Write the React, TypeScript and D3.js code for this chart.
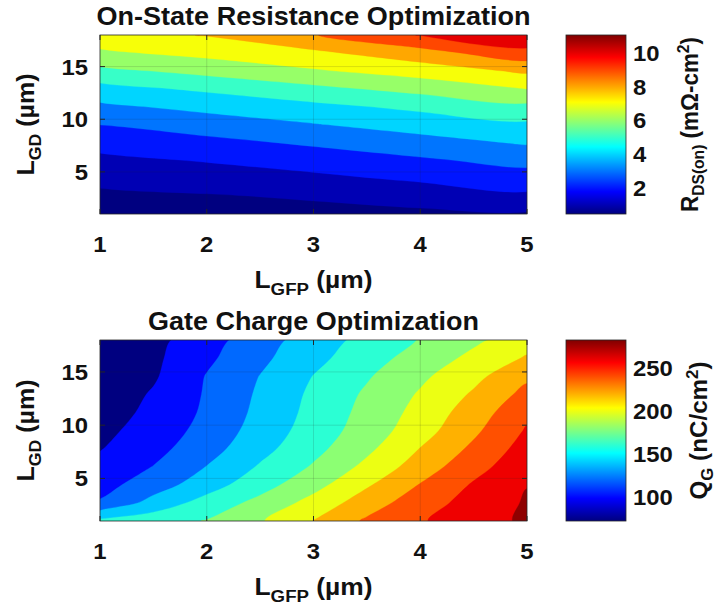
import React from 'react';
import * as d3 from 'd3';

type Grid = number[][];

// sample positions of the two grids (µm)
const lgdRows = [1, 2.7, 4.4, 6.1, 7.8, 9.5, 11.2, 12.9, 14.6, 16.3, 18];
const lgfpRds = [1, 2, 3, 4, 5];
const lgfpQg = [1, 1.5, 2, 2.5, 3, 3.5, 4, 4.5, 5];

// R_DS(on) (mΩ·cm²), one row per L_GD (bottom to top), columns follow lgfpRds
const rdsOn: Grid = [
  [0.45, 0.6, 0.7, 0.8, 0.88],
  [0.8, 0.93, 1.11, 1.4, 1.82],
  [1.25, 1.48, 1.78, 2.17, 2.57],
  [1.76, 2.07, 2.46, 2.86, 3.31],
  [2.36, 2.74, 3.16, 3.64, 4.11],
  [3.02, 3.48, 3.95, 4.42, 4.83],
  [3.8, 4.29, 4.75, 5.24, 5.76],
  [4.66, 5.18, 5.76, 6.33, 7.02],
  [5.75, 6.31, 6.9, 7.45, 8.18],
  [6.83, 7.29, 7.8, 8.6, 9.67],
  [7.59, 8.05, 8.95, 10.05, 10.9],
];

// Q_G (nC/cm²), one row per L_GD (bottom to top), columns follow lgfpQg
const qG: Grid = [
  [165, 172, 181, 198, 220.5, 243, 258, 272, 283],
  [122, 147.5, 168, 186, 207, 230.5, 251, 267.5, 282],
  [113, 130, 151, 172, 193, 217.5, 241, 262, 279.5],
  [106, 120.5, 140.5, 162, 182, 205, 229.5, 253, 273],
  [99, 113.5, 132, 153.5, 174, 195.5, 220.5, 244, 268],
  [95, 108, 127, 148, 169, 189, 211.5, 236, 262],
  [91, 104.5, 123.5, 145, 166, 186, 206.5, 230, 255],
  [87, 102, 122, 143, 164, 183, 202, 222.5, 246],
  [83, 97.5, 121, 140.5, 160.5, 178, 196, 214.5, 236],
  [79, 96, 116, 135.5, 154, 172, 188, 205, 222],
  [76, 94, 112, 131, 150, 166, 181, 196, 211],
];

const rdsLevels = [1, 2, 3, 4, 5, 6, 7, 8, 9, 10, 11];
const qgLevels = [100, 120, 140, 160, 180, 200, 220, 240, 260, 280];
const rdsRange: [number, number] = [0.45, 11.07];
const qgRange: [number, number] = [72, 283];

const xTickValues = [1, 2, 3, 4, 5];
const yTickValues = [5, 10, 15];
const rdsBarTicks = [2, 4, 6, 8, 10];
const qgBarTicks = [100, 150, 200, 250];

const width = 716;
const height = 609;
const plotLeft = 100;
const plotRight = 527;
const barLeft = 566;
const barRight = 626;
const stretch = 1.085; // the picture is a little wider than its fonts
const font = "'Liberation Sans', Arial, Helvetica, sans-serif";
const axisColor = "#262626";
const textColor = "#111";

const jet = (t: number) => {
  const c = (v: number) => Math.round(255 * Math.max(0, Math.min(1, v)));
  return `rgb(${c(1.5 - Math.abs(4 * t - 3))},${c(1.5 - Math.abs(4 * t - 2))},${c(1.5 - Math.abs(4 * t - 1))})`;
};

const HText = ({x, y, anchor, size, children, length}:
  {x: number, y: number, anchor: string, size: number, children: React.ReactNode, length?: number}) => (
  <g transform={`translate(${x},${y}) scale(${stretch},1)`}>
    <text textAnchor={anchor} fontSize={size} fontWeight="bold" fontFamily={font} fill={textColor}
      textLength={length ? length / stretch : undefined} lengthAdjust="spacingAndGlyphs">
      {children}
    </text>
  </g>
);

const VText = ({x, y, size, length, children}:
  {x: number, y: number, size: number, length: number, children: React.ReactNode}) => (
  <text transform={`translate(${x},${y}) rotate(-90)`} textAnchor="middle" fontSize={size} fontWeight="bold"
    fontFamily={font} fill={textColor} textLength={length} lengthAdjust="spacingAndGlyphs">
    {children}
  </text>
);

type PanelProps = {
  id: string,
  title: string,
  titleLength: number,
  values: Grid,
  xs: number[],
  levels: number[],
  range: [number, number],
  top: number,
  bottom: number,
  barTicks: number[],
  barLabel: React.ReactNode,
  barLabelLength: number,
  barLabelX: number,
}

const Panel = ({id, title, titleLength, values, xs, levels, range, top, bottom, barTicks, barLabel, barLabelLength, barLabelX}: PanelProps) => {
  const xScale = d3.scaleLinear().domain([1, 5]).range([plotLeft, plotRight]);
  const yScale = d3.scaleLinear().domain([1, 18]).range([bottom, top]);
  const cScale = d3.scaleLinear().domain(range).range([bottom, top]);
  const norm = (v: number) => (v - range[0]) / (range[1] - range[0]);

  const nx = xs.length;
  const ny = lgdRows.length;
  const dx = xs[1] - xs[0];
  const dy = lgdRows[1] - lgdRows[0];
  // d3.contours puts sample i at grid coordinate i + 0.5
  const toPixel = (p: number[]): [number, number] =>
    [xScale(xs[0] + (p[0] - 0.5) * dx), yScale(lgdRows[0] + (p[1] - 0.5) * dy)];
  const ringLine = d3.line().curve(d3.curveCatmullRomClosed.alpha(0.5));
  const bandPath = (mp: d3.ContourMultiPolygon) =>
    mp.coordinates.map(poly => poly.map(ring => ringLine(ring.slice(0, -1).map(toPixel) as [number, number][])).join("")).join("");
  const bands = d3.contours().size([nx, ny]).thresholds(levels)(values.flat());

  const stops = d3.range(0, 1.0001, 0.025);
  const midY = (top + bottom) / 2;
  const midX = (plotLeft + plotRight) / 2;

  return (
    <g>
      <defs>
        <clipPath id={`clip-${id}`}>
          <rect x={plotLeft} y={top} width={plotRight - plotLeft} height={bottom - top}/>
        </clipPath>
        <linearGradient id={`grad-${id}`} x1="0" y1="1" x2="0" y2="0">
          {stops.map(s => <stop key={s} offset={s} stopColor={jet(s)}/>)}
        </linearGradient>
      </defs>

      <HText x={midX} y={top - 10} anchor="middle" size={25} length={titleLength}>{title}</HText>

      <g clipPath={`url(#clip-${id})`}>
        <rect x={plotLeft} y={top} width={plotRight - plotLeft} height={bottom - top} fill={jet(0)}/>
        {bands.map(b => (
          <path key={b.value} d={bandPath(b)} fillRule="evenodd" fill={jet(norm(b.value))} stroke={jet(norm(b.value))} strokeWidth={0.3}/>
        ))}
      </g>

      {/* grid */}
      {xTickValues.slice(1, -1).map(v => (
        <line key={`gx${v}`} x1={xScale(v)} x2={xScale(v)} y1={top} y2={bottom} stroke={axisColor} strokeOpacity={0.18} strokeWidth={0.8}/>
      ))}
      {yTickValues.map(v => (
        <line key={`gy${v}`} y1={yScale(v)} y2={yScale(v)} x1={plotLeft} x2={plotRight} stroke={axisColor} strokeOpacity={0.18} strokeWidth={0.8}/>
      ))}

      {/* ticks, inside and mirrored */}
      {xTickValues.map(v => (
        <g key={`tx${v}`}>
          <line x1={xScale(v)} x2={xScale(v)} y1={bottom} y2={bottom - 5} stroke={axisColor}/>
          <line x1={xScale(v)} x2={xScale(v)} y1={top} y2={top + 5} stroke={axisColor}/>
          <HText x={xScale(v)} y={bottom + 38} anchor="middle" size={22}>{v}</HText>
        </g>
      ))}
      {yTickValues.map(v => (
        <g key={`ty${v}`}>
          <line x1={plotLeft} x2={plotLeft + 5} y1={yScale(v)} y2={yScale(v)} stroke={axisColor}/>
          <line x1={plotRight} x2={plotRight - 5} y1={yScale(v)} y2={yScale(v)} stroke={axisColor}/>
          <HText x={88} y={yScale(v) + 8} anchor="end" size={22}>{v}</HText>
        </g>
      ))}
      <rect x={plotLeft} y={top} width={plotRight - plotLeft} height={bottom - top} fill="none" stroke={axisColor} strokeWidth={0.8}/>

      <HText x={midX} y={bottom + 74} anchor="middle" size={24} length={118}>
        L<tspan fontSize={17} dy={7}>GFP</tspan><tspan dy={-7}> (µm)</tspan>
      </HText>
      <VText x={34} y={midY} size={24} length={102}>
        L<tspan fontSize={17} dy={7}>GD</tspan><tspan dy={-7}> (µm)</tspan>
      </VText>

      {/* colorbar */}
      <rect x={barLeft} y={top} width={barRight - barLeft} height={bottom - top} fill={`url(#grad-${id})`} stroke={axisColor} strokeWidth={0.8}/>
      {barTicks.map(v => (
        <HText key={`cb${v}`} x={barRight + 7} y={cScale(v) + 8} anchor="start" size={22}>{v}</HText>
      ))}
      <VText x={barLabelX} y={midY} size={23} length={barLabelLength}>{barLabel}</VText>
    </g>
  );
};

const App = () => {
  return (
    <svg width={width} height={height} style={{position: "absolute", left: 0, top: 0, background: "white"}}>
      <rect width={width} height={height} fill="white"/>
      <Panel id="rds" title="On-State Resistance Optimization" titleLength={434}
        values={rdsOn} xs={lgfpRds} levels={rdsLevels} range={rdsRange}
        top={35} bottom={214} barTicks={rdsBarTicks} barLabelLength={175} barLabelX={698}
        barLabel={<>R<tspan fontSize={16} dy={6}>DS(on)</tspan><tspan dy={-6}> (mΩ-cm</tspan><tspan fontSize={16} dy={-9}>2</tspan><tspan dy={9}>)</tspan></>}
      />
      <Panel id="qg" title="Gate Charge Optimization" titleLength={331}
        values={qG} xs={lgfpQg} levels={qgLevels} range={qgRange}
        top={340} bottom={521} barTicks={qgBarTicks} barLabelLength={138} barLabelX={707}
        barLabel={<>Q<tspan fontSize={16} dy={6}>G</tspan><tspan dy={-6}> (nC/cm</tspan><tspan fontSize={16} dy={-9}>2</tspan><tspan dy={9}>)</tspan></>}
      />
    </svg>
  );
};

export default App;
